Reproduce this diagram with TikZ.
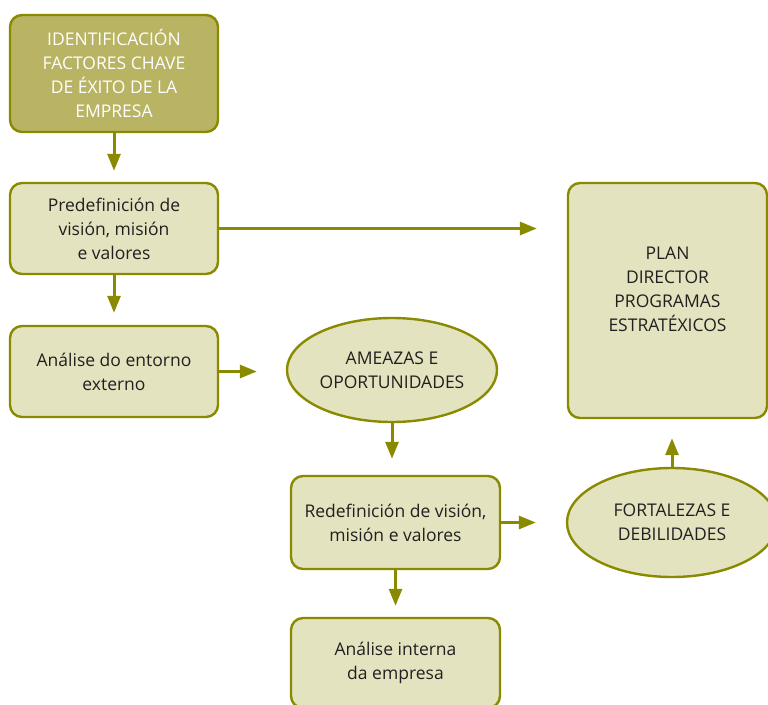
\documentclass[tikz,border=0pt]{standalone}
\usepackage{fontspec}
\setmainfont{Open Sans}
\usepackage{tikz}
\usetikzlibrary{arrows.meta,shapes.geometric,positioning}

\definecolor{oliva}{RGB}{138,138,0}
\definecolor{claro}{RGB}{228,227,192}
\definecolor{escuro}{RGB}{184,180,100}
\definecolor{texto}{RGB}{35,31,32}

\begin{document}
\begin{tikzpicture}[x=1pt,y=-1pt,
    ->,>={Triangle[length=17pt,width=13pt]},line width=3pt,draw=oliva,
    every node/.style={font=\fontsize{17.5}{24}\selectfont,text=texto,align=center},
    caixa/.style={rectangle,rounded corners=12pt,draw=oliva,line width=2.4pt,
      fill=claro,inner sep=0pt},
    elipse/.style={ellipse,draw=oliva,line width=2.4pt,fill=claro,inner sep=0pt,
      minimum width=210pt,minimum height=104pt}]

  \useasboundingbox (0,0) rectangle (768,704);

  \node[caixa,fill=escuro,text=white,minimum width=208pt,minimum height=117pt]
    (ident) at (114,73.5) {IDENTIFICACIÓN\\FACTORES CHAVE\\DE ÉXITO DE LA\\EMPRESA};
  \node[caixa,minimum width=208pt,minimum height=91pt]
    (predef) at (114,228.5) {Predefinición de\\visión, misión\\e valores};
  \node[caixa,minimum width=208pt,minimum height=91pt]
    (externo) at (114,371.5) {Análise do entorno\\externo};
  \node[elipse] (ameazas) at (392,370) {AMEAZAS E\\OPORTUNIDADES};
  \node[caixa,minimum width=209pt,minimum height=93pt]
    (redef) at (395.5,522.5) {Redefinición de visión,\\misión e valores};
  \node[caixa,minimum width=209pt,minimum height=90pt]
    (interna) at (395.5,663) {Análise interna\\da empresa};
  \node[caixa,minimum width=199pt,minimum height=235pt,
    label={[yshift=11.5pt]center:PLAN\\DIRECTOR\\PROGRAMAS\\ESTRATÉXICOS}]
    (plan) at (667.5,300.5) {};
  \node[elipse,minimum height=109pt] (fortalezas) at (672,522.5) {FORTALEZAS E\\DEBILIDADES};

  \path (ident) edge [shorten >=11pt] (predef);
  \path (predef) edge [shorten >=12pt] (externo)
        (predef.east) edge [shorten >=30pt] (predef.east -| plan.west);
  \path (externo.east) edge [shorten >=29pt] (externo.east -| ameazas.west);
  \path (ameazas.south) edge [shorten >=16pt] (ameazas.south |- redef.north);
  \path (redef) edge [shorten >=11pt] (interna)
        (redef.east) edge [shorten >=30pt] (redef.east -| fortalezas.west);
  \path (fortalezas.north) edge [shorten >=19pt] (fortalezas.north |- plan.south);
\end{tikzpicture}
\end{document}
